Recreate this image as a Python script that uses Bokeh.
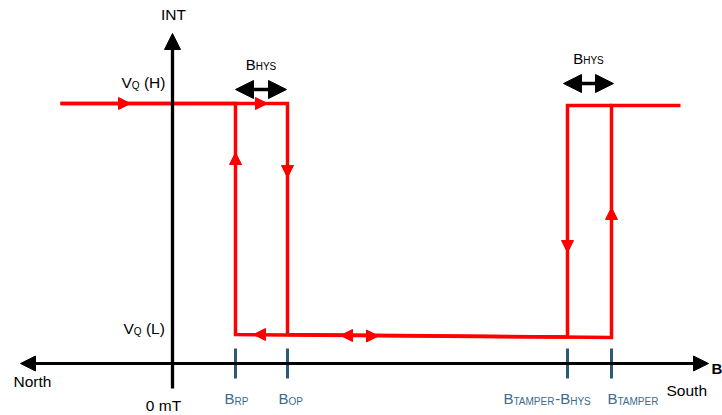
from bokeh.plotting import figure
from bokeh.models import Range1d, Arrow, NormalHead, ColumnDataSource
from bokeh.core.properties import value
from bokeh.embed import file_html
from bokeh.resources import INLINE

# ---------------- data (field B in arbitrary units, 0 = 0 mT; INT output level in arbitrary units) -------------
tick_fields = [63, 115, 395, 439]                       # B_RP, B_OP, B_TAMPER-B_HYS, B_TAMPER
tick_labels = [
    [("B", False), ("RP", True)],
    [("B", False), ("OP", True)],
    [("B", False), ("TAMPER", True), ("-", False), ("B", False), ("HYS", True)],
    [("B", False), ("TAMPER", True)],
]
vq_high = 260
vq_low = 29

# forward sweep (increasing B) and reverse sweep (decreasing B)
fwd_field = [-112, 115, 115, 439, 439, 508]
fwd_out = [260, 260, 29, 26, 258, 258]
rev_field = [439, 395, 395, 63, 63, -112]
rev_out = [258, 258, 26.4, 29, 260, 260]

# direction markers on the loops
dir_field = [-42, 95, 115, 63, 81, 168, 206, 395, 439]
dir_out = [260, 260, 186, 211, 29, 28, 27.5, 111, 156]
dir_dx = [1, 1, 0, 0, -1, -1, 1, 0, 0]
dir_dy = [0, 0, -1, 1, 0, 0, 0, -1, 1]

# hysteresis spans
hys_from = [63, 391]
hys_to = [114, 441]
hys_level = [274, 280]

# axes extents
axis_field_min, axis_field_max = -152, 536
axis_out_min, axis_out_max = -25, 330

FONT = "Liberation Sans"
RED = "#ff0000"
TICK_COLOR = "#2d5a74"
LABEL_COLOR = "#3a6b8c"
LIFT = 5  # baseline correction in px

W = {"B": .667, "R": .722, "P": .667, "O": .778, "T": .611, "A": .667, "M": .833, "E": .667,
     "H": .722, "Y": .667, "S": .667, "Q": .778, "V": .667, "-": .333, "(": .333, ")": .333,
     " ": .278, "L": .556}


def tw(s, size):
    return sum(W.get(c, .6) for c in s) * size


p = figure(width=722, height=415, x_range=Range1d(-172, 550), y_range=Range1d(-52, 363),
           output_backend="svg", toolbar_location=None, x_axis_type=None, y_axis_type=None,
           min_border=0, outline_line_color=None, title=None,
           background_fill_color="white", border_fill_color="white")


def rich(x, y, pieces, dx0, color, main_size=15, sub_size=10, sub_drop=2.5, center=False):
    total = sum(tw(t, sub_size if s else main_size) for t, s in pieces)
    off = dx0 - total / 2 if center else dx0
    for t, s in pieces:
        size = sub_size if s else main_size
        lead = len(t) - len(t.lstrip(" "))
        off += tw(" " * lead, size)
        t = t.strip(" ")
        p.text(x=[x], y=[y + LIFT], text=[t], x_offset=off, y_offset=sub_drop if s else 0,
               text_font=value(FONT), text_font_size=f"{size}px", text_color=color,
               text_baseline="alphabetic", text_align="left")
        off += tw(t, size)


# hysteresis loops
p.line(fwd_field, fwd_out, line_color=RED, line_width=3.5, line_join="miter")
p.line(rev_field, rev_out, line_color=RED, line_width=3.5, line_join="miter")

# direction arrowheads
src = ColumnDataSource(dict(
    xs=[x - 2 * dx for x, dx in zip(dir_field, dir_dx)],
    ys=[y - 2 * dy for y, dy in zip(dir_out, dir_dy)],
    xe=dir_field, ye=dir_out))
p.add_layout(Arrow(end=NormalHead(size=12, fill_color=RED, line_color=RED, line_width=1),
                   x_start="xs", y_start="ys", x_end="xe", y_end="ye", source=src,
                   line_alpha=0))

# ticks on the field axis
p.segment(x0=tick_fields, y0=[15] * 4, x1=tick_fields, y1=[-15] * 4,
          line_color=TICK_COLOR, line_width=3)

# axes
p.add_layout(Arrow(start=NormalHead(size=15, fill_color="black", line_color="black"),
                   end=NormalHead(size=15, fill_color="black", line_color="black"),
                   x_start=axis_field_min, y_start=0, x_end=axis_field_max, y_end=0,
                   line_width=3, line_color="black"))
p.add_layout(Arrow(end=NormalHead(size=16, fill_color="black", line_color="black"),
                   x_start=0, y_start=axis_out_min, x_end=0, y_end=axis_out_max,
                   line_width=3.3, line_color="black"))

# hysteresis double arrows
for a, b, lv in zip(hys_from, hys_to, hys_level):
    p.add_layout(Arrow(start=NormalHead(size=18, fill_color="black", line_color="black"),
                       end=NormalHead(size=18, fill_color="black", line_color="black"),
                       x_start=a, y_start=lv, x_end=b, y_end=lv,
                       line_width=3.5, line_color="black"))
    rich((a + b) / 2, lv + 20, [("B", False), ("HYS", True)], 0, "black",
         sub_drop=1.5, center=True)

# tick labels
tick_dx = [-11, -9, -64, -4]
for f, lab, dx in zip(tick_fields, tick_labels, tick_dx):
    rich(f, -40, lab, dx, LABEL_COLOR)

# level labels
rich(0, 276, [("V", False), ("Q", True), (" (H)", False)], -51, "black", main_size=15.5)
rich(0, 30, [("V", False), ("Q", True), (" (L)", False)], -49, "black", main_size=15.5)

# axis texts
def plain(x, y, t, align="left", size="15.5px", bold=False):
    p.text(x=[x], y=[y + LIFT], text=[t], text_font=value(FONT), text_font_size=size,
           text_color="black", text_baseline="alphabetic", text_align=align,
           text_font_style="bold" if bold else "normal")

plain(1, 344, "INT", align="center")
plain(-159, -23, "North")
plain(-9, -47, "0 mT", align="center")
plain(494, -32, "South")
plain(539, -10, "B", size="15px", bold=True)

open("out.html", "w").write(file_html(p, INLINE))
